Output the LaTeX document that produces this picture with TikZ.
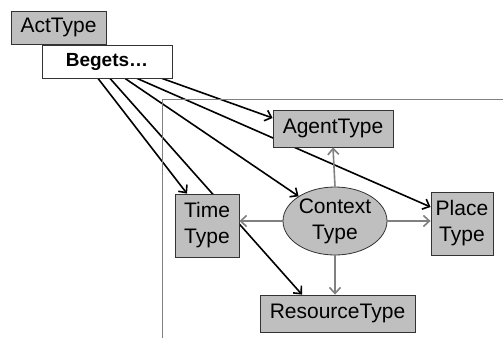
\documentclass[tikz,border=0pt]{standalone}
\usepackage{fontspec}
\setmainfont{Liberation Sans}
\usetikzlibrary{shapes.geometric,arrows.meta}
\pgfdeclarelayer{bg}
\pgfsetlayers{bg,main}

\begin{document}
\begin{tikzpicture}[x=1pt,y=-1pt,
  typebox/.style={draw=black!80, fill=black!25, line width=0.8pt, inner sep=0pt,
    font=\fontsize{21}{26}\selectfont, align=center},
  labelbox/.style={draw=black!80, fill=white, line width=0.8pt, inner sep=0pt,
    font=\bfseries\fontsize{19}{23}\selectfont},
  begets/.style={black, line width=1.6pt, -{Straight Barb[length=6pt,width=11pt]}},
  facet/.style={black!50, line width=1.6pt, -{Straight Barb[length=6pt,width=11pt]}}]
\useasboundingbox (0,0) rectangle (503,338);

% context frame
\draw[black!50, line width=1pt] (503,99) -- (162,99) -- (162,338);

% act type and its label
\node[typebox, minimum width=95pt, minimum height=33pt] (act) at (58.5,27.5) {ActType};
\node[labelbox, minimum width=130pt, minimum height=33pt] (beg) at (107,61.5) {Begets\dots};

% facet types
\node[typebox, minimum width=120pt, minimum height=37pt] (agent) at (333,128.5) {AgentType};
\node[typebox, ellipse, minimum width=104pt, minimum height=68pt] (ctx) at (335,221) {Context\\Type};
\node[typebox, minimum width=64pt, minimum height=63pt] (time) at (207,225.5) {Time\\Type};
\node[typebox, minimum width=62pt, minimum height=63pt] (place) at (462,223.5) {Place\\Type};
\node[typebox, minimum width=155pt, minimum height=37pt] (res) at (337.5,313.5) {ResourceType};

% start points along the bottom of the label
\coordinate (b1) at ([xshift=-9pt]beg.south);
\coordinate (b2) at ([xshift=3pt]beg.south);
\coordinate (b3) at ([xshift=18pt]beg.south);
\coordinate (b4) at ([xshift=30pt]beg.south);
\coordinate (b5) at ([xshift=55pt]beg.south);

% context to its facets
\draw[facet] (ctx.north) -- (agent.south);
\draw[facet] (ctx.west) -- (ctx.west -| time.east);
\draw[facet] (ctx.east) -- (ctx.east -| place.west);
\draw[facet] (ctx.south) -- (ctx.south |- res.north);

% begets connectors, passing behind the boxes
\begin{pgfonlayer}{bg}
\draw[begets] (b1) -- ([xshift=-20pt]time.north);
\draw[begets] (b2) -- ([xshift=-35.5pt]res.north);
\draw[begets] (b3) -- (ctx);
\draw[begets] (b4) -- ([yshift=16.5pt]place.west);
\draw[begets] (b5) -- ([yshift=10.5pt]agent.west);
\end{pgfonlayer}
\end{tikzpicture}
\end{document}
